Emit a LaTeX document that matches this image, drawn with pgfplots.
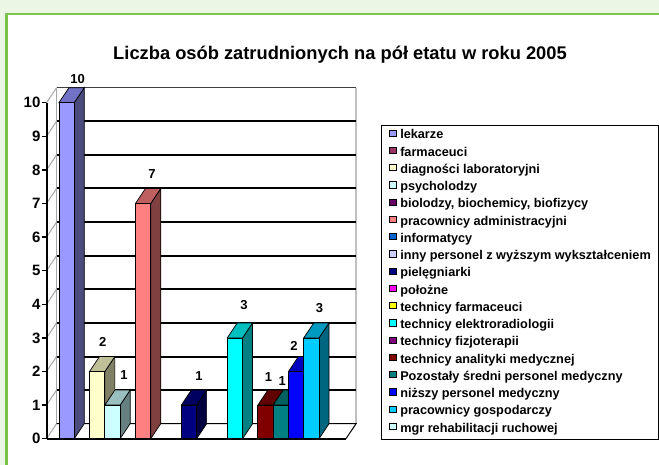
\documentclass[border=0pt]{standalone}
\usepackage{fontspec}
\setmainfont{Liberation Sans}
\usepackage{pgfplots}
\pgfplotsset{compat=1.18}

\definecolor{bgg}{HTML}{EBF6E5}
\definecolor{frg}{HTML}{7DC24B}
% legend colours
\definecolor{l1}{HTML}{9999FF}
\definecolor{l2}{HTML}{993366}
\definecolor{l3}{HTML}{FFFFCC}
\definecolor{l4}{HTML}{CCFFFF}
\definecolor{l5}{HTML}{660066}
\definecolor{l6}{HTML}{FF8080}
\definecolor{l7}{HTML}{0066CC}
\definecolor{l8}{HTML}{CCCCFF}
\definecolor{l9}{HTML}{000080}
\definecolor{l10}{HTML}{FF00FF}
\definecolor{l11}{HTML}{FFFF00}
\definecolor{l12}{HTML}{00FFFF}
\definecolor{l13}{HTML}{800080}
\definecolor{l14}{HTML}{800000}
\definecolor{l15}{HTML}{008080}
\definecolor{l16}{HTML}{0000FF}
\definecolor{l17}{HTML}{00CCFF}
\definecolor{l18}{HTML}{CCFFFF}
% side and top shades
\definecolor{s1}{HTML}{4B4B7D}\definecolor{t1}{HTML}{7171C6}
\definecolor{s3}{HTML}{808066}\definecolor{t3}{HTML}{BFBF99}
\definecolor{s4}{HTML}{668080}\definecolor{t4}{HTML}{99BFBF}
\definecolor{s6}{HTML}{804040}\definecolor{t6}{HTML}{BF6060}
\definecolor{s9}{HTML}{000040}\definecolor{t9}{HTML}{000060}
\definecolor{s12}{HTML}{008080}\definecolor{t12}{HTML}{00BFBF}
\definecolor{s14}{HTML}{400000}\definecolor{t14}{HTML}{600000}
\definecolor{s15}{HTML}{004040}\definecolor{t15}{HTML}{006060}
\definecolor{s16}{HTML}{000080}\definecolor{t16}{HTML}{0000BF}
\definecolor{s17}{HTML}{006680}\definecolor{t17}{HTML}{0099BF}

\pgfplotsset{
  bd/.style={draw=black, line width=0.7pt, forget plot},
  fr/.style={ybar, bar width=1, bar shift=0pt, draw=black, line width=0.7pt, forget plot,
    nodes near coords,
    every node near coord/.append style={font=\fontsize{13}{15}\selectfont\bfseries, inner sep=0pt, text=black}},
  legsq/.style={legend image code/.code={\draw[fill=#1,draw=black,line width=0.6pt] (0pt,-0.5pt) rectangle (6.2pt,5.7pt);}},
}

\begin{document}
\begin{tikzpicture}[x=1pt,y=1pt]
\useasboundingbox (0,0) rectangle (659,465);
\fill[bgg] (0,0) rectangle (659,465);
\fill[white] (6.5,-5) rectangle (665,451);
\draw[frg, line width=2.2] (6.5,-5) -- (6.5,451) -- (665,451);
\node[font=\fontsize{18.3}{22}\selectfont\bfseries, anchor=base, inner sep=0pt] at (340,405.7) {Liczba osób zatrudnionych na pół etatu w roku 2005};

\begin{axis}[
  at={(66.6pt,26.3pt)}, anchor=origin,
  width=309.5pt, height=351pt, scale only axis,
  xmin=-1.31, xmax=18.92, ymin=0, ymax=10.446,
  clip=false,
  axis x line=none, axis y line*=left,
  y axis line style={draw=none},
  ytick={0,1,2,3,4,5,6,7,8,9,10},
  tick align=outside, major tick length=4.5pt,
  ytick style={black, line width=1.3pt},
  yticklabel style={font=\fontsize{15}{18}\selectfont\bfseries, inner sep=0pt, xshift=-1.5pt},
  /pgf/number format/assume math mode=true,
  legend cell align=left,
  legend style={at={(1.0808,0.8937)}, anchor=north west, draw=black, line width=0.8pt, fill=white,
    font=\fontsize{12.7}{15}\selectfont\bfseries,
    inner xsep=8pt, inner ysep=4pt,
    nodes={inner sep=0pt, text height=9.5pt, text depth=3pt},
    row sep=4.75pt,
    /tikz/every odd column/.append style={column sep=4pt}},
]
% legend
\addlegendimage{legsq=l1}\addlegendentry{lekarze}
\addlegendimage{legsq=l2}\addlegendentry{farmaceuci}
\addlegendimage{legsq=l3}\addlegendentry{diagności laboratoryjni}
\addlegendimage{legsq=l4}\addlegendentry{psycholodzy}
\addlegendimage{legsq=l5}\addlegendentry{biolodzy, biochemicy, biofizycy}
\addlegendimage{legsq=l6}\addlegendentry{pracownicy administracyjni}
\addlegendimage{legsq=l7}\addlegendentry{informatycy}
\addlegendimage{legsq=l8}\addlegendentry{inny personel z wyższym wykształceniem}
\addlegendimage{legsq=l9}\addlegendentry{pielęgniarki}
\addlegendimage{legsq=l10}\addlegendentry{położne}
\addlegendimage{legsq=l11}\addlegendentry{technicy farmaceuci}
\addlegendimage{legsq=l12}\addlegendentry{technicy elektroradiologii}
\addlegendimage{legsq=l13}\addlegendentry{technicy fizjoterapii}
\addlegendimage{legsq=l14}\addlegendentry{technicy analityki medycznej}
\addlegendimage{legsq=l15}\addlegendentry{Pozostały średni personel medyczny}
\addlegendimage{legsq=l16}\addlegendentry{niższy personel medyczny}
\addlegendimage{legsq=l17}\addlegendentry{pracownicy gospodarczy}
\addlegendimage{legsq=l18}\addlegendentry{mgr rehabilitacji ruchowej}

% back wall
\draw[gray!70, line width=1pt] (axis cs:-0.656,0.446) -- (axis cs:-0.656,10.446);
\draw[black!75, line width=1pt] (axis cs:-0.656,10.446) -- (axis cs:18.92,10.446);
\draw[gray!50, line width=1.8pt] (axis cs:18.92,0.446) -- (axis cs:18.92,10.446);
\pgfplotsinvokeforeach{1,...,9}{\draw[black, line width=2pt] (axis cs:-0.656,#1.446) -- (axis cs:18.92,#1.446);}
\pgfplotsinvokeforeach{0,...,10}{\draw[gray!70, line width=1pt] (axis cs:-1.31,#1) -- (axis cs:-0.656,#1.446);}
% floor
\draw[black, line width=1pt] (axis cs:-0.656,0.446) -- (axis cs:18.92,0.446) -- (axis cs:18.26,0);
\draw[black, line width=2pt] (axis cs:-1.31,0) -- (axis cs:18.26,0);

% lekarze 10
\addplot[fill=s1, bd] coordinates {(0.5,0) (1.154,0.446) (1.154,10.446) (0.5,10)} --cycle;
\addplot[fill=t1, bd] coordinates {(-0.5,10) (0.5,10) (1.154,10.446) (0.154,10.446)} --cycle;
\addplot[fr, fill=l1, nodes near coords style={xshift=11pt, yshift=19pt}] coordinates {(0,10)};
% diagnosci 2
\addplot[fill=s3, bd] coordinates {(2.5,0) (3.154,0.446) (3.154,2.446) (2.5,2)} --cycle;
\addplot[fill=t3, bd] coordinates {(1.5,2) (2.5,2) (3.154,2.446) (2.154,2.446)} --cycle;
\addplot[fr, fill=l3, nodes near coords style={xshift=5.5pt, yshift=24.5pt}] coordinates {(2,2)};
% psycholodzy 1
\addplot[fill=s4, bd] coordinates {(3.5,0) (4.154,0.446) (4.154,1.446) (3.5,1)} --cycle;
\addplot[fill=t4, bd] coordinates {(2.5,1) (3.5,1) (4.154,1.446) (3.154,1.446)} --cycle;
\addplot[fr, fill=l4, nodes near coords style={xshift=11.5pt, yshift=25pt}] coordinates {(3,1)};
% pracownicy administracyjni 7
\addplot[fill=s6, bd] coordinates {(5.5,0) (6.154,0.446) (6.154,7.446) (5.5,7)} --cycle;
\addplot[fill=t6, bd] coordinates {(4.5,7) (5.5,7) (6.154,7.446) (5.154,7.446)} --cycle;
\addplot[fr, fill=l6, nodes near coords style={xshift=9pt, yshift=25pt}] coordinates {(5,7)};
% pielegniarki 1
\addplot[fill=s9, bd] coordinates {(8.5,0) (9.154,0.446) (9.154,1.446) (8.5,1)} --cycle;
\addplot[fill=t9, bd] coordinates {(7.5,1) (8.5,1) (9.154,1.446) (8.154,1.446)} --cycle;
\addplot[fr, fill=l9, nodes near coords style={xshift=10pt, yshift=24.5pt}] coordinates {(8,1)};
% technicy elektroradiologii 3
\addplot[fill=s12, bd] coordinates {(11.5,0) (12.154,0.446) (12.154,3.446) (11.5,3)} --cycle;
\addplot[fill=t12, bd] coordinates {(10.5,3) (11.5,3) (12.154,3.446) (11.154,3.446)} --cycle;
\addplot[fr, fill=l12, nodes near coords style={xshift=9pt, yshift=27.5pt}] coordinates {(11,3)};
% technicy analityki medycznej 1
\addplot[fill=s14, bd] coordinates {(13.5,0) (14.154,0.446) (14.154,1.446) (13.5,1)} --cycle;
\addplot[fill=t14, bd] coordinates {(12.5,1) (13.5,1) (14.154,1.446) (13.154,1.446)} --cycle;
\addplot[fr, fill=l14, nodes near coords style={xshift=3pt, yshift=23.5pt}] coordinates {(13,1)};
% pozostaly sredni personel 1
\addplot[fill=s15, bd] coordinates {(14.5,0) (15.154,0.446) (15.154,1.446) (14.5,1)} --cycle;
\addplot[fill=t15, bd] coordinates {(13.5,1) (14.5,1) (15.154,1.446) (14.154,1.446)} --cycle;
\addplot[fr, fill=l15, nodes near coords style={xshift=1.5pt, yshift=19pt}] coordinates {(14,1)};
% nizszy personel 2
\addplot[fill=s16, bd] coordinates {(15.5,0) (16.154,0.446) (16.154,2.446) (15.5,2)} --cycle;
\addplot[fill=t16, bd] coordinates {(14.5,2) (15.5,2) (16.154,2.446) (15.154,2.446)} --cycle;
\addplot[fr, fill=l16, nodes near coords style={xshift=-2pt, yshift=21pt}] coordinates {(15,2)};
% pracownicy gospodarczy 3
\addplot[fill=s17, bd] coordinates {(16.5,0) (17.154,0.446) (17.154,3.446) (16.5,3)} --cycle;
\addplot[fill=t17, bd] coordinates {(15.5,3) (16.5,3) (17.154,3.446) (16.154,3.446)} --cycle;
\addplot[fr, fill=l17, nodes near coords style={xshift=8pt, yshift=25pt}] coordinates {(16,3)};

% front y axis line
\draw[black, line width=2pt] (axis cs:-1.31,0) -- (axis cs:-1.31,10);
\end{axis}
\end{tikzpicture}
\end{document}
